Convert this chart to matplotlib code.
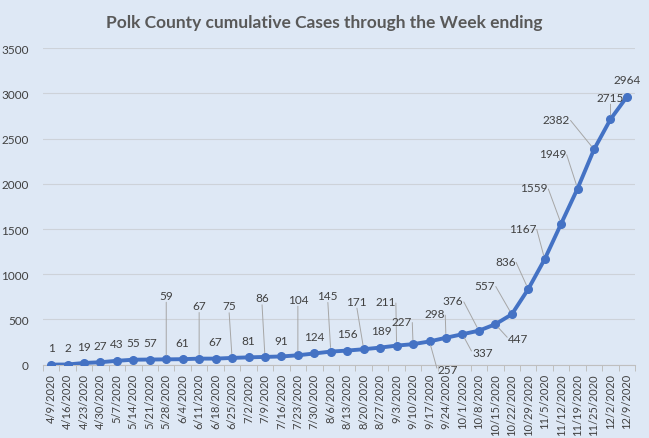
import numpy as np
import matplotlib.pyplot as plt

plt.rcParams['font.family'] = ['Lato', 'DejaVu Sans']

weeks = ['4/9/2020', '4/16/2020', '4/23/2020', '4/30/2020', '5/7/2020', '5/14/2020',
         '5/21/2020', '5/28/2020', '6/4/2020', '6/11/2020', '6/18/2020', '6/25/2020',
         '7/2/2020', '7/9/2020', '7/16/2020', '7/23/2020', '7/30/2020', '8/6/2020',
         '8/13/2020', '8/20/2020', '8/27/2020', '9/3/2020', '9/10/2020', '9/17/2020',
         '9/24/2020', '10/1/2020', '10/8/2020', '10/15/2020', '10/22/2020', '10/29/2020',
         '11/5/2020', '11/12/2020', '11/19/2020', '11/25/2020', '12/2/2020', '12/9/2020']
cases = [1, 2, 19, 27, 43, 55, 57, 59, 61, 67, 67, 75, 81, 86, 91, 104, 124, 145,
         156, 171, 189, 211, 227, 257, 298, 337, 376, 447, 557, 836, 1167, 1559,
         1949, 2382, 2715, 2964]

# label offsets (pixels) from each point; far-off labels get a leader line
label_dx = [0, 0, 0, 0, 0, 0, 0, 0, 0, 0, 0, -3, 0, -3, 0, 0, 0, -3,
            0, -7, 1, -11, -11, 18, -11, 20, -26, 23, -27, -23, -22, -27, -25, -38, 0, 0]
label_dy = [17, 17, 16, 17, 17, 17, 17, 64, 17, 53, 17, 52, 17, 59, 16, 56, 17, 56,
            17, 48, 17, 44, 23, -28, 24, -18, 30, -14, 29, 28, 31, 36, 35, 30, 22, 17]

blue = '#4472C4'
bg = '#DEE8F5'
txt = '#404040'

fig = plt.figure(figsize=(6.49, 4.39), dpi=100, facecolor=bg)
ax = fig.add_axes([0.066, 0.167, 0.9127, 0.7207])
ax.set_facecolor(bg)

x = np.arange(len(cases))
ax.plot(x, cases, color=blue, lw=2.8, marker='o', ms=5.5, zorder=3,
        solid_capstyle='round')

for i, v in enumerate(cases):
    dx, dy = label_dx[i], label_dy[i]
    lead = abs(dx) > 2 or abs(dy - 17) > 2
    if lead:
        rx = 1.0 if dx < -10 else (0.0 if dx > 10 else 0.5)
        ry = 0.5 if abs(dx) > 10 else (0.0 if dy > 0 else 1.0)
        ap = dict(arrowstyle='-', color='#A6A6A6', lw=0.7, shrinkA=1, shrinkB=3,
                  relpos=(rx, ry), patchA=None)
    else:
        ap = None
    ax.annotate(str(v), (i, v), xytext=(dx, dy), textcoords='offset pixels',
                ha='center', va='center', fontsize=8.5, color=txt, arrowprops=ap,
                zorder=4)

ax.set_xlim(-0.5, len(cases) - 0.5)
ax.set_ylim(0, 3500)
ax.set_yticks(np.arange(0, 3501, 500))
ax.set_xticks(x)
ax.set_xticklabels(weeks, rotation=90, fontsize=8, color=txt)
ax.set_xticks(np.arange(-0.5, len(cases), 1), minor=True)
ax.tick_params(axis='x', which='major', length=0, pad=6)
ax.tick_params(axis='x', which='minor', length=4, color='#BFBFBF', width=0.7)
ax.tick_params(axis='y', length=0, pad=10, labelsize=8.5, labelcolor=txt)
ax.grid(axis='y', color='#CDD2D9', lw=0.8)
ax.set_axisbelow(True)
for s in ['top', 'right', 'left']:
    ax.spines[s].set_visible(False)
ax.spines['bottom'].set_color('#BFBFBF')
ax.spines['bottom'].set_linewidth(0.8)

fig.text(0.5, 1 - 23 / 439, 'Polk County cumulative Cases through the Week ending',
         ha='center', va='center', fontsize=12.5, fontweight='bold', color='#595959')

fig.savefig('out.png', dpi=100, facecolor=bg)
